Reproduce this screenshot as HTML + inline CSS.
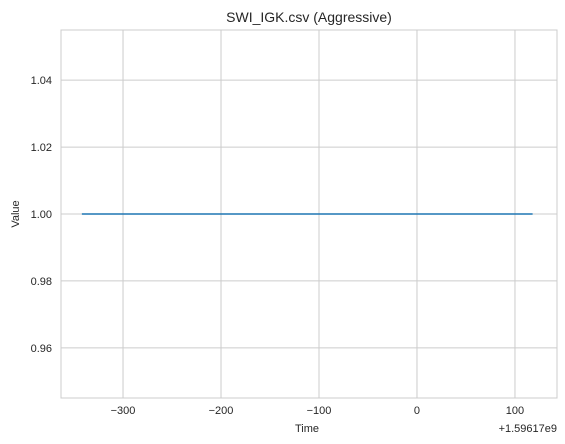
<!DOCTYPE html>
<html><head><meta charset="utf-8"><style>
body{margin:0;background:#fff;}
svg{display:block;font-family:"Liberation Sans","DejaVu Sans",sans-serif;}
</style></head><body>
<svg id="chart" width="565" height="444">
<rect x="0" y="0" width="565" height="444" fill="#fff"/>
<text x="309" y="22" text-anchor="middle" font-size="14" fill="#262626">SWI_IGK.csv (Aggressive)</text>
<g id="grid"></g>
<rect x="61" y="30" width="496" height="368" fill="none" stroke="#cccccc" stroke-width="1"/>
<g id="ticks"></g>
<path id="series" fill="none" stroke="#1f77b4" stroke-width="1.5"/>
<text x="307" y="432" text-anchor="middle" font-size="11" fill="#262626">Time</text>
<text x="557" y="432" text-anchor="end" font-size="11" fill="#262626">+1.59617e9</text>
<text transform="translate(19,214) rotate(-90)" text-anchor="middle" font-size="11" fill="#262626">Value</text>
</svg>
<script>
const xTicks=[-300,-200,-100,0,100];
const xTickLabels=["\u2212300","\u2212200","\u2212100","0","100"];
const yTicks=[0.96,0.98,1.00,1.02,1.04];
const yTickLabels=["0.96","0.98","1.00","1.02","1.04"];
const timeValues=[-342,118];
const seriesValues=[1.0,1.0];
const L=61,R=557,T=30,B=398;
const xMin=-363.3,xMax=142.9,yMin=0.945,yMax=1.055;
function xs(v){return L+(v-xMin)/(xMax-xMin)*(R-L);}
function ys(v){return B-(v-yMin)/(yMax-yMin)*(B-T);}
const ns="http://www.w3.org/2000/svg";
const g=document.getElementById('grid'),tk=document.getElementById('ticks');
xTicks.forEach((v,i)=>{
 const l=document.createElementNS(ns,'line');
 l.setAttribute('x1',xs(v));l.setAttribute('x2',xs(v));l.setAttribute('y1',T);l.setAttribute('y2',B);
 l.setAttribute('stroke','#cccccc');l.setAttribute('stroke-width','1');
 
 
 g.appendChild(l);
 const t=document.createElementNS(ns,'text');
 t.setAttribute('x',xs(v));t.setAttribute('y',414);t.setAttribute('text-anchor','middle');
 t.setAttribute('font-size','11');t.setAttribute('fill','#262626');t.textContent=xTickLabels[i];
 
 
 tk.appendChild(t);
});
yTicks.forEach((v,i)=>{
 const l=document.createElementNS(ns,'line');
 l.setAttribute('x1',L);l.setAttribute('x2',R);l.setAttribute('y1',ys(v));l.setAttribute('y2',ys(v));
 l.setAttribute('stroke','#cccccc');l.setAttribute('stroke-width','1');
 
 
 g.appendChild(l);
 const t=document.createElementNS(ns,'text');
 t.setAttribute('x',52);t.setAttribute('y',ys(v)+4);t.setAttribute('text-anchor','end');
 t.setAttribute('font-size','11');t.setAttribute('fill','#262626');t.textContent=yTickLabels[i];
 
 
 tk.appendChild(t);
});
document.getElementById('series').setAttribute('d',timeValues.map((v,i)=>(i?'L':'M')+xs(v)+','+ys(seriesValues[i])).join(' '));
</script>
</body></html>
